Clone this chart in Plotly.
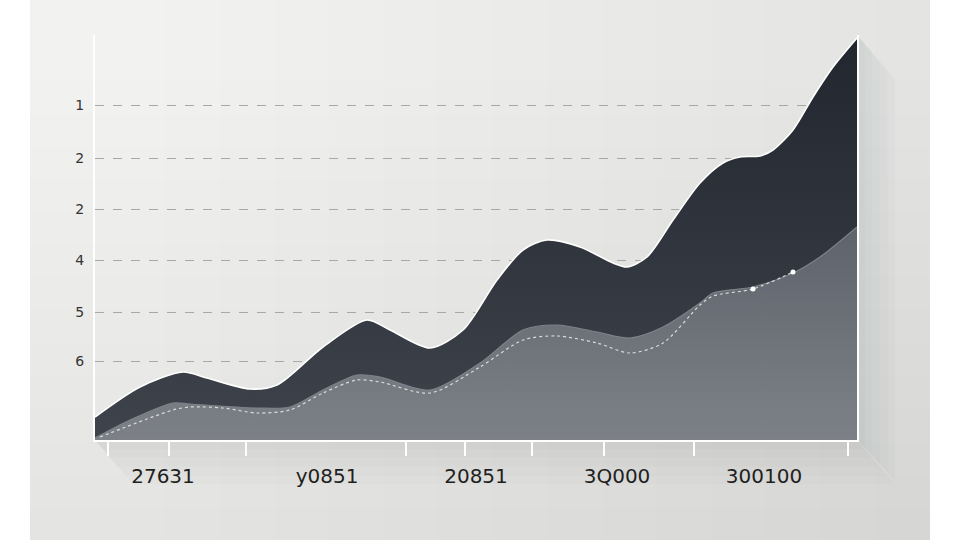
import plotly.graph_objects as go

# ---- data (x: position along axis, y: value) ----
dark_x = [0, 45, 88, 112, 155, 182, 228, 272, 295, 335, 368, 402, 428, 452, 485, 518, 532, 552, 578, 605, 628, 645, 665, 678, 698, 718, 738, 762]
dark_y = [23, 53, 68, 62, 51, 55, 93, 120, 110, 92, 110, 160, 190, 200, 193, 177, 173, 183, 220, 257, 277, 283, 284, 290, 310, 343, 373, 402]

gray_x = [0, 35, 78, 95, 162, 195, 228, 262, 285, 335, 385, 428, 462, 502, 535, 568, 605, 618, 658, 698, 725, 762]
gray_y = [2, 20, 37, 36, 32, 33, 50, 65, 63, 50, 77, 110, 115, 108, 102, 113, 137, 147, 153, 167, 183, 213]

dot_x = [5, 78, 95, 128, 162, 195, 228, 262, 285, 335, 385, 428, 462, 502, 535, 568, 605, 618, 658, 698]
dot_y = [3, 30, 33, 32, 27, 30, 47, 60, 58, 47, 73, 100, 104, 97, 87, 97, 135, 144, 151, 168]

marker_x = [658, 698]
marker_y = [151, 168]

y_tick_vals = [335, 282, 231, 180, 128, 79]
y_tick_text = ["1", "2", "2", "4", "5", "6"]

x_label_vals = [68, 232, 381, 522, 669]
x_label_text = ["27631", "y0851", "20851", "3Q000", "300100"]

x_mark_vals = [13, 74, 151, 311, 370, 437, 509, 599, 753]

fig = go.Figure()

fig.add_trace(go.Scatter(
    x=dark_x, y=dark_y, mode="lines", fill="tozeroy",
    line=dict(color="white", width=1.6, shape="spline", smoothing=0.8),
    fillgradient=dict(type="vertical", start=0, stop=405,
                      colorscale=[[0, "#3e434c"], [0.5, "#2f343d"], [1, "#22262f"]]),
    hoverinfo="skip", showlegend=False))

fig.add_trace(go.Scatter(
    x=gray_x, y=gray_y, mode="lines", fill="tozeroy",
    line=dict(color="#7d828a", width=1.2, shape="spline", smoothing=0.8),
    fillgradient=dict(type="vertical", start=0, stop=220,
                      colorscale=[[0, "#7d8187"], [1, "#5d626b"]]),
    hoverinfo="skip", showlegend=False))

fig.add_trace(go.Scatter(
    x=dot_x, y=dot_y, mode="lines",
    line=dict(color="rgba(235,235,235,0.85)", width=1.2, dash="dot", shape="spline", smoothing=0.8),
    hoverinfo="skip", showlegend=False))

fig.add_trace(go.Scatter(
    x=marker_x, y=marker_y, mode="markers",
    marker=dict(color="white", size=5),
    hoverinfo="skip", showlegend=False))

# invisible trace to carry the tick-mark axis
fig.add_trace(go.Scatter(x=[0, 762], y=[0, 0], xaxis="x2", mode="lines",
                         line=dict(color="rgba(0,0,0,0)"), hoverinfo="skip", showlegend=False))

# panel geometry in paper coordinates of the plot area (762 x 405 px, offset 95,35)
PX0, PX1 = (30 - 95) / 762, (930 - 95) / 762
PY0, PY1 = -100 / 405, 1 + 35 / 405

shapes = [dict(type="rect", xref="paper", yref="paper", x0=PX0, x1=PX1, y0=PY0, y1=PY1,
               fillcolor="#f2f2f0", line=dict(width=0), layer="below")]
N = 14
for i in range(N):
    t = 0.15 + 0.85 * i / N
    # darker towards bottom
    shapes.append(dict(type="rect", xref="paper", yref="paper", x0=PX0, x1=PX1,
                       y0=PY0, y1=PY1 - t * (PY1 - PY0),
                       fillcolor="rgb(108,116,124)", opacity=0.008,
                       line=dict(width=0), layer="below"))
    # darker towards right
    shapes.append(dict(type="rect", xref="paper", yref="paper", x0=PX0 + t * (PX1 - PX0), x1=PX1,
                       y0=PY0, y1=PY1,
                       fillcolor="rgb(108,116,124)", opacity=0.008,
                       line=dict(width=0), layer="below"))
# soft drop shadows
for k in range(5):
    w = 0.01 * (k + 1)
    shapes.append(dict(type="path", xref="paper", yref="paper",
                       path=f"M 1,1 L {1 + w},{1 - 2.2 * w} L {1 + w},{-0.1 * (k + 1) / 5} L 1,0 Z",
                       fillcolor="rgb(110,115,120)", opacity=0.03, line=dict(width=0), layer="below"))
    shapes.append(dict(type="path", xref="paper", yref="paper",
                       path=f"M 0,0 L 1,0 L {1 + w},{-0.022 * (k + 1)} L {w},{-0.022 * (k + 1)} Z",
                       fillcolor="rgb(110,115,120)", opacity=0.02, line=dict(width=0), layer="below"))

fig.update_layout(
    width=960, height=540,
    margin=dict(l=95, r=103, t=35, b=100),
    paper_bgcolor="white",
    plot_bgcolor="rgba(0,0,0,0)",
    shapes=shapes,
    xaxis=dict(range=[0, 762], tickvals=x_label_vals, ticktext=x_label_text,
               showgrid=False, zeroline=False, ticks="", ticklabelstandoff=17,
               showline=True, linecolor="white", linewidth=2,
               tickfont=dict(family="DejaVu Sans", size=20, color="#1f1f1f")),
    xaxis2=dict(range=[0, 762], overlaying="x", anchor="y", side="bottom",
                tickvals=x_mark_vals, showticklabels=False, ticks="outside",
                ticklen=15, tickwidth=2, tickcolor="white",
                showgrid=False, zeroline=False, showline=False),
    yaxis=dict(range=[0, 405], tickvals=y_tick_vals, ticktext=y_tick_text,
               showgrid=True, gridcolor="#a8a8a6", gridwidth=1, griddash="dash",
               zeroline=False, ticks="", ticklabelstandoff=6,
               showline=True, linecolor="white", linewidth=2, mirror=True,
               tickfont=dict(family="DejaVu Sans", size=14, color="#333333")),
)

fig.write_html("out.html", config={"displayModeBar": False},
               post_script="document.body.style.margin='0';")
